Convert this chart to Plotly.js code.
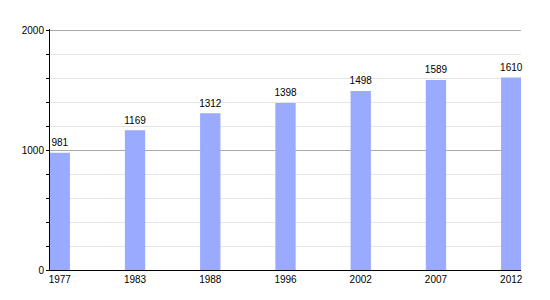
<!DOCTYPE html>
<html><head><meta charset="utf-8">
<script src="https://cdn.plot.ly/plotly-3.0.1.min.js"></script>
<style>body{margin:0;background:#fff}#c{width:550px;height:300px}</style>
</head><body><div id="c"></div>
<script>
const years = ['1977','1983','1988','1996','2002','2007','2012'];
const population = [981,1169,1312,1398,1498,1589,1610];
const labels = population.map(String);

const font = {family:'Liberation Sans, Arial, sans-serif', size:10, color:'#000'};
Plotly.newPlot('c', [{
  type:'bar', x:years, y:population,
  marker:{color:'#99aaff'}, width:0.27, hoverinfo:'none'
},{
  type:'scatter', mode:'markers+text', x:years, y:population, text:labels,
  marker:{size:5, color:'rgba(0,0,0,0)'},
  textposition:'top center', cliponaxis:false,
  textfont:{family:font.family, size:10, color:'#000'}, hoverinfo:'none'
}], {
  width:550, height:300,
  margin:{l:50, r:29, t:29, b:30},
  paper_bgcolor:'#fff', plot_bgcolor:'#fff',
  font:font, showlegend:false,
  xaxis:{type:'category', range:[-0.13,6.13], showline:true, linecolor:'#000', linewidth:1,
         ticks:'', showgrid:false, tickfont:font, fixedrange:true},
  yaxis:{range:[0,2016], dtick:1000, tick0:0, showline:true, linecolor:'#000', linewidth:1,
         ticks:'outside', ticklen:3, tickcolor:'#000', gridcolor:'#aaaaaa', gridwidth:1,
         zeroline:false, tickfont:font,
         minor:{dtick:200, ticks:'outside', ticklen:3, tickcolor:'#000', showgrid:true, gridcolor:'#e4e4e4', gridwidth:1}}
}, {staticPlot:true});
</script></body></html>
